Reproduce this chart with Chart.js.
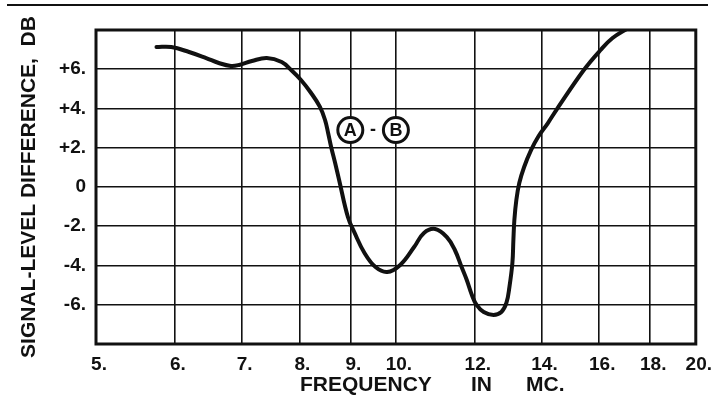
<!DOCTYPE html>
<html>
<head>
<meta charset="utf-8">
<script src="https://cdn.jsdelivr.net/npm/chart.js@4/dist/chart.umd.min.js"></script>
<style>
  html, body { margin: 0; padding: 0; background: #fff; }
  canvas { display: block; }
</style>
</head>
<body>
<canvas id="c" width="718" height="396"></canvas>
<script>
// ---- data ----
const freqMc = [5.75, 5.95, 6.20, 6.45, 6.64, 6.83, 6.96, 7.17, 7.42, 7.68,
                7.85, 8.03, 8.22, 8.39, 8.49, 8.55, 8.61, 8.69, 8.77,
                8.95, 9.09, 9.30, 9.54, 9.80, 10.10, 10.43, 10.67, 10.95, 11.25,
                11.46, 11.64, 11.78, 11.92, 12.05, 12.25, 12.53, 12.76, 12.91, 13.00,
                13.09, 13.12, 13.15, 13.21, 13.30, 13.45, 13.67, 13.89, 14.21, 14.51,
                15.44, 16.05, 16.50, 17.11];
const diffDb = [7.13, 7.13, 6.88, 6.57, 6.32, 6.17, 6.22, 6.42, 6.57, 6.37,
                5.96, 5.45, 4.79, 4.08, 3.41, 2.75, 2.04, 1.22, 0.36,
                -1.53, -2.34, -3.36, -4.08, -4.33, -3.97, -3.06, -2.34, -2.14, -2.55,
                -3.21, -4.08, -4.74, -5.50, -6.01, -6.37, -6.52, -6.37, -5.91, -5.10,
                -3.87, -2.70, -1.68, -0.66, 0.20, 1.02, 1.89, 2.55, 3.26, 3.97,
                5.96, 6.98, 7.59, 8.10];

const xTicks = [5, 6, 7, 8, 9, 10, 12, 14, 16, 18, 20];
const xTickLabels = ['5.', '6.', '7.', '8.', '9.', '10.', '12.', '14.', '16.', '18.', '20.'];
const yTicks = [-8, -6, -4, -2, 0, 2, 4, 6, 8];
const yTickLabels = ['', '-6.', '-4.', '-2.', '0', '+2.', '+4.', '+6.', ''];

const annotLetters = ['A', 'B'];
const annotFreq = [9.0, 10.0];
const annotDb = [2.9, 2.9];

const yTitle = 'SIGNAL-LEVEL DIFFERENCE,  DB';
const xTitleWords = ['FREQUENCY', 'IN', 'MC.'];

// ---- chart ----
const FONT = "'Liberation Sans', Arial, sans-serif";

const decor = {
  id: 'decor',
  afterDraw(chart) {
    const ctx = chart.ctx;
    const a = chart.chartArea;
    const xs = chart.scales.x, ys = chart.scales.y;
    ctx.save();
    // top rule
    ctx.strokeStyle = '#111';
    ctx.lineWidth = 2.2;
    ctx.beginPath();
    ctx.moveTo(7, 5);
    ctx.lineTo(708, 5);
    ctx.stroke();
    // frame
    ctx.lineWidth = 3;
    ctx.strokeRect(a.left, a.top, a.right - a.left, a.bottom - a.top);
    // annotation (A)-(B)
    const pts = annotLetters.map((l, i) => ({
      l, x: xs.getPixelForValue(annotFreq[i]), y: ys.getPixelForValue(annotDb[i])
    }));
    ctx.lineWidth = 3;
    ctx.font = "bold 18px " + FONT;
    ctx.textAlign = 'center';
    ctx.textBaseline = 'middle';
    pts.forEach(p => {
      ctx.fillStyle = '#fff';
      ctx.beginPath();
      ctx.arc(p.x, p.y, 12.5, 0, Math.PI * 2);
      ctx.fill();
      ctx.stroke();
      ctx.fillStyle = '#111';
      ctx.fillText(p.l, p.x, p.y + 1);
    });
    ctx.fillText('-', (pts[0].x + pts[1].x) / 2, pts[0].y);
    // x axis title
    ctx.font = "bold 21px " + FONT;
    ctx.textAlign = 'left';
    ctx.textBaseline = 'alphabetic';
    const wx = [300, 471, 526];
    xTitleWords.forEach((w, i) => ctx.fillText(w, wx[i], 391));
    ctx.restore();
  }
};

new Chart(document.getElementById('c'), {
  type: 'scatter',
  data: {
    datasets: [{
      data: freqMc.map((f, i) => ({ x: f, y: diffDb[i] })),
      showLine: true,
      borderColor: '#111',
      borderWidth: 4,
      borderCapStyle: 'round',
      borderJoinStyle: 'round',
      pointRadius: 0,
      tension: 0.4,
      fill: false
    }]
  },
  options: {
    responsive: false,
    animation: false,
    layout: { padding: { left: 0, right: 17, top: 30, bottom: 0 } },
    plugins: { legend: { display: false }, tooltip: { enabled: false } },
    scales: {
      x: {
        type: 'logarithmic',
        min: 5, max: 20,
        afterBuildTicks: s => { s.ticks = xTicks.map(v => ({ value: v })); },
        afterFit: s => { s.height = 52; },
        grid: { color: '#111', lineWidth: 1.6, drawTicks: false },
        border: { display: false },
        ticks: {
          autoSkip: false, maxRotation: 0, minRotation: 0, padding: 9,
          labelOffset: 3,
          color: '#111',
          font: { family: FONT, size: 19, weight: 'bold' },
          callback: (v, i) => xTickLabels[i]
        }
      },
      y: {
        type: 'linear',
        min: -8, max: 8,
        afterBuildTicks: s => { s.ticks = yTicks.map(v => ({ value: v })); },
        afterFit: s => { s.width = 96; },
        grid: { color: '#111', lineWidth: 1.6, drawTicks: false },
        border: { display: false },
        ticks: {
          padding: 10,
          color: '#111',
          font: { family: FONT, size: 19, weight: 'bold' },
          callback: (v, i) => yTickLabels[i]
        },
        title: {
          display: true,
          text: yTitle,
          color: '#111',
          padding: { top: 17, bottom: 0 },
          font: { family: FONT, size: 21, weight: 'bold' }
        }
      }
    }
  },
  plugins: [decor]
});
</script>
</body>
</html>
